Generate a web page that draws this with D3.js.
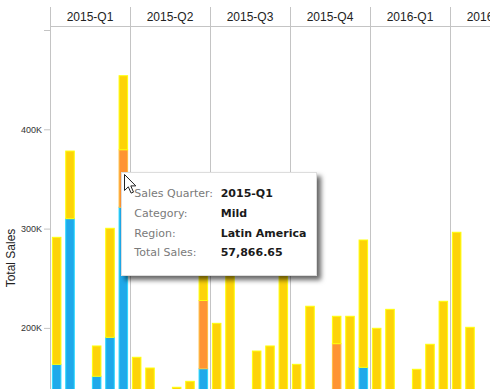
<!DOCTYPE html>
<html>
<head>
<meta charset="utf-8">
<script src="https://cdn.jsdelivr.net/npm/d3@7"></script>
<style>
  body { margin: 0; background: #fff; overflow: hidden; }
  svg { display: block; }
  .tick text { font-family: "Liberation Sans", Arial, sans-serif; font-size: 9px; fill: #333; }
  .tick line { stroke: #c4c4c4; }
</style>
</head>
<body>
<script>
// data (values under the visible area are estimates)
const quarters = ["2015-Q1", "2015-Q2", "2015-Q3", "2015-Q4", "2016-Q1", "2016-Q2"];
const regions = ["North America", "Europe", "Asia", "Africa", "Middle East", "Latin America"];
const categories = ["Hot", "Mild", "Sweet"];
const colors = ["#1fa9ea", "#fe9433", "#fdd308"];

// one value per quarter x region, in the order above
const hotSales = [
  163300, 310000, 95000, 151300, 190500, 321500,
  95000, 105000, 80000, 100000, 90000, 158900,
  110000, 120000, 70000, 95000, 100000, 125000,
  85000, 115000, 90000, 105000, 110000, 160300,
  100000, 115000, 85000, 90000, 105000, 120000,
  130000, 100000, 75000, 95000, 110000, 85000
];
const mildSales = [
  0, 0, 0, 0, 0, 57866.65,
  0, 0, 0, 0, 0, 68700,
  0, 0, 0, 0, 0, 0,
  0, 0, 0, 79100, 0, 0,
  0, 0, 0, 0, 0, 0,
  0, 0, 0, 0, 0, 0
];
const sweetSales = [
  127900, 68100, 25000, 30500, 109800, 74600,
  75400, 54600, 30000, 40200, 56200, 42800,
  94600, 146400, 40000, 81700, 81800, 153500,
  78300, 106800, 20000, 27600, 101700, 128200,
  99600, 103700, 35000, 68300, 78500, 106800,
  166300, 100600, 30000, 70000, 90000, 60000
];
const yTicks = [200000, 300000, 400000, 500000];

const tip = {quarter: "2015-Q1", category: "Mild", region: "Latin America", value: 57866.65};

const w = 490, h = 389;
const padLeft = 50, padTop = 7, headerH = 19;

const rows = [];
quarters.forEach((q, qi) => {
  regions.forEach((r, ri) => {
    const i = qi * regions.length + ri;
    rows.push({quarter: q, region: r, Hot: hotSales[i], Mild: mildSales[i], Sweet: sweetSales[i]});
  });
});

const stacked = d3.stack().keys(categories)(rows);

const svg = d3.select("body").append("svg")
  .attr("width", w)
  .attr("height", h);

const x_quarter = d3.scaleBand()
  .domain(quarters)
  .range([padLeft, padLeft + 80 * quarters.length]);

const x_region = d3.scaleBand()
  .domain(regions)
  .range([0, x_quarter.bandwidth()])
  .paddingInner(0.36)
  .paddingOuter(0.18);

const y_scale = d3.scaleLinear()
  .domain([0, 500000])
  .range([526.5, 30]);

const color = d3.scaleOrdinal().domain(categories).range(colors);

// bars
svg.append("g")
  .selectAll("g")
  .data(stacked)
  .enter()
  .append("g")
  .attr("fill", (d) => color(d.key))
  .attr("stroke", (d) => d3.color(color(d.key)).brighter(0.7))
  .selectAll("rect")
  .data((d) => d.filter((s) => s[1] > s[0]))
  .enter()
  .append("rect")
  .attr("x", (d) => x_quarter(d.data.quarter) + x_region(d.data.region))
  .attr("width", x_region.bandwidth())
  .attr("y", (d) => y_scale(d[1]))
  .attr("height", (d) => y_scale(d[0]) - y_scale(d[1]));

// header band and quarter separators
const grid = svg.append("g").attr("stroke", "#c4c4c4").attr("shape-rendering", "crispEdges");
grid.append("line")
  .attr("x1", padLeft).attr("x2", w)
  .attr("y1", padTop + headerH + 0.5).attr("y2", padTop + headerH + 0.5);
grid.selectAll(".sep")
  .data(quarters)
  .enter()
  .append("line")
  .attr("x1", (d) => x_quarter(d) + 0.5)
  .attr("x2", (d) => x_quarter(d) + 0.5)
  .attr("y1", padTop)
  .attr("y2", h);

svg.append("g")
  .selectAll("text")
  .data(quarters)
  .enter()
  .append("text")
  .attr("x", (d) => x_quarter(d) + x_quarter.bandwidth() / 2)
  .attr("y", padTop + 13.5)
  .attr("text-anchor", "middle")
  .style("font-family", "'Liberation Sans', Arial, sans-serif")
  .style("font-size", "12px")
  .attr("fill", "#222")
  .text((d) => d);

// y axis
const y_axis = d3.axisLeft(y_scale)
  .tickValues(yTicks)
  .tickSize(6)
  .tickPadding(2)
  .tickFormat((d) => d >= 500000 ? "" : d3.format("d")(d / 1000) + "K");

svg.append("g")
  .attr("transform", `translate(${padLeft}, 0)`)
  .call(y_axis)
  .call((g) => g.select(".domain").remove());

svg.append("text")
  .attr("transform", "translate(14.5, 258) rotate(-90)")
  .attr("text-anchor", "middle")
  .style("font-family", "'Liberation Sans', Arial, sans-serif")
  .style("font-size", "12px")
  .attr("fill", "#222")
  .text("Total Sales");

// tooltip
const defs = svg.append("defs");
const filter = defs.append("filter").attr("id", "shadow")
  .attr("x", "-10%").attr("y", "-10%").attr("width", "130%").attr("height", "130%");
filter.append("feDropShadow")
  .attr("dx", 4).attr("dy", 4).attr("stdDeviation", 2.5)
  .attr("flood-color", "#000").attr("flood-opacity", 0.6);

const tipG = svg.append("g").attr("transform", "translate(121, 172)");
tipG.append("rect")
  .attr("x", 0.5).attr("y", 0.5)
  .attr("width", 195).attr("height", 103)
  .attr("fill", "#fff")
  .attr("stroke", "#ddd")
  .attr("filter", "url(#shadow)");

const tipRows = [
  ["Sales Quarter:", tip.quarter],
  ["Category:", tip.category],
  ["Region:", tip.region],
  ["Total Sales:", d3.format(",.2f")(tip.value)]
];
const tipText = tipG.selectAll(".row")
  .data(tipRows)
  .enter()
  .append("g")
  .attr("transform", (d, i) => `translate(0, ${25.3 + i * 19.6})`)
  .style("font-family", "'DejaVu Sans', Verdana, sans-serif")
  .style("font-size", "11px");
tipText.append("text")
  .attr("x", 13.3)
  .attr("fill", "#7a7a7a")
  .text((d) => d[0]);
tipText.append("text")
  .attr("x", 99.7)
  .attr("fill", "#1a1a1a")
  .style("font-weight", "bold")
  .text((d) => d[1]);

// mouse pointer
svg.append("path")
  .attr("transform", "translate(124.5, 174.5)")
  .attr("d", "M0,0 L0,16 L3.8,12.3 L6.6,18.6 L9,17.6 L6.3,11.4 L11.3,11.4 Z")
  .attr("fill", "#fff")
  .attr("stroke", "#222")
  .attr("stroke-width", 1)
  .attr("stroke-linejoin", "round");
</script>
</body>
</html>
